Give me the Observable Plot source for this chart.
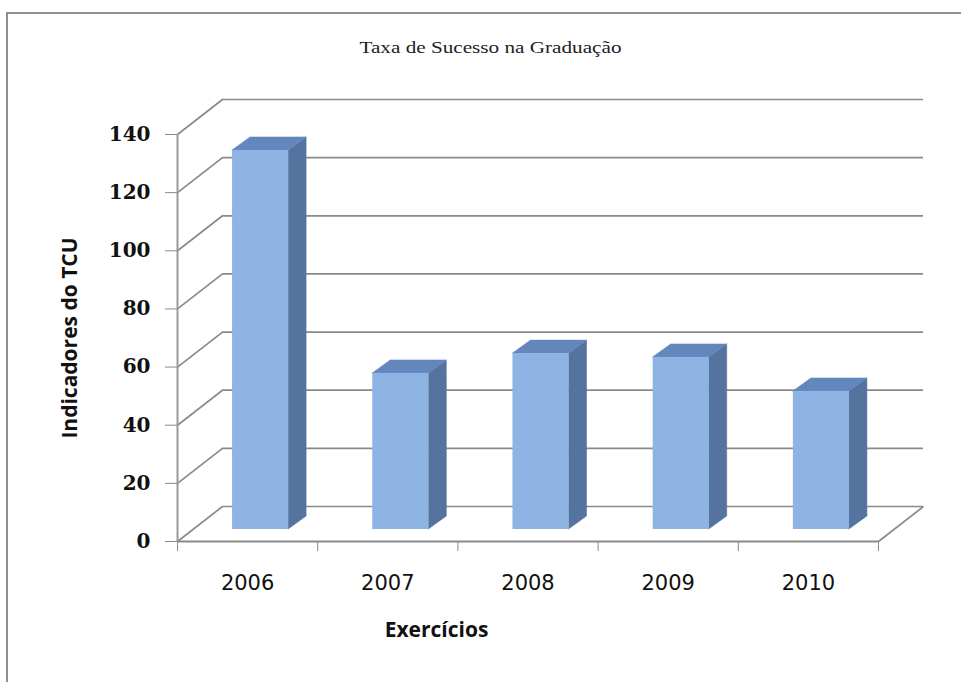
<!DOCTYPE html>
<html><head><meta charset="utf-8">
<script src="https://cdn.jsdelivr.net/npm/d3@7"></script>
<script src="https://cdn.jsdelivr.net/npm/@observablehq/plot@0.6"></script>
<style>
html,body{margin:0;padding:0;background:#fff;overflow:hidden;width:961px;height:682px}
#frame{position:absolute;left:6px;top:12px;width:1200px;height:900px;border-left:2px solid #8e8e8e;border-top:2px solid #8e8e8e}
#chart{position:absolute;left:0;top:0}
</style></head><body>
<div id="frame"></div><div id="chart"></div>
<script>
const chartTitle = "Taxa de Sucesso na Graduação";
const years = ["2006", "2007", "2008", "2009", "2010"];
const values = [130.4, 53.7, 60.5, 59.2, 47.5];
const yTicks = [0, 20, 40, 60, 80, 100, 120, 140];
const yTitle = "Indicadores do TCU";
const xTitle = "Exercícios";

// layout (pixels)
const W = 961, H = 682;
const mLeft = 177, mRight = 83, mTop = 134, mBottom = 141;
const yMax = 140;
const pxX = (W - mLeft - mRight) / years.length;
const pxY = (H - mTop - mBottom) / yMax;
// 3D depth expressed in data units
const wall = {dx: 45 / pxX, dy: 35 / pxY};
const off = {dx: 13 / pxX, dy: 12 / pxY};
const depth = {dx: 18 / pxX, dy: 13 / pxY};
const b0 = 0.3, b1 = 0.7;

const grid = "#8a8a8a";
const cFront = "#8EB4E3", cTop = "#6386BD", cSide = "#54739F";

const bars = years.map((y, i) => ({year: y, i, v: values[i]}));
const front = bars.map(d => ({year: d.year, x1: d.i + b0 + off.dx, x2: d.i + b1 + off.dx, y1: off.dy, y2: d.v + off.dy}));
const side = bars.flatMap(d => [
  {year: d.year, x: d.i + b1 + off.dx, y1: off.dy, y2: d.v + off.dy},
  {year: d.year, x: d.i + b1 + off.dx + depth.dx, y1: off.dy + depth.dy, y2: d.v + off.dy + depth.dy}
]);
const topf = bars.flatMap(d => [
  {year: d.year, y: d.v + off.dy, x1: d.i + b0 + off.dx, x2: d.i + b1 + off.dx},
  {year: d.year, y: d.v + off.dy + depth.dy, x1: d.i + b0 + off.dx + depth.dx, x2: d.i + b1 + off.dx + depth.dx}
]);
const n = years.length;
const xBounds = d3.range(n + 1);

const plot = Plot.plot({
  width: W, height: H,
  marginLeft: mLeft, marginRight: mRight, marginTop: mTop, marginBottom: mBottom,
  x: {type: "linear", domain: [0, n], axis: null},
  y: {type: "linear", domain: [0, yMax], axis: null},
  style: {background: "transparent", overflow: "visible"},
  marks: [
    // back wall gridlines
    Plot.ruleY(yTicks, {y: t => t + wall.dy, x1: wall.dx, x2: n + wall.dx, stroke: grid, strokeWidth: 1.7}),
    // left wall diagonals
    Plot.link(yTicks, {x1: 0, y1: t => t, x2: wall.dx, y2: t => t + wall.dy, stroke: grid, strokeWidth: 1.7}),
    // floor right edge
    Plot.link([n], {x1: d => d, y1: 0, x2: d => d + wall.dx, y2: wall.dy, stroke: grid, strokeWidth: 1.7}),
    // bars
    Plot.areaY(side, {x: "x", y1: "y1", y2: "y2", z: "year", fill: cSide, stroke: cSide, strokeWidth: 0.5, curve: "linear"}),
    Plot.areaX(topf, {y: "y", x1: "x1", x2: "x2", z: "year", fill: cTop, stroke: cTop, strokeWidth: 0.5, curve: "linear"}),
    Plot.rect(front, {x1: "x1", x2: "x2", y1: "y1", y2: "y2", fill: cFront}),
    // front axis lines
    Plot.ruleY([0], {x1: 0, x2: n, stroke: grid, strokeWidth: 1.8}),
    Plot.ruleX([0], {y1: 0, y2: yMax, stroke: "#999", strokeWidth: 2}),
    Plot.axisY(yTicks, {tickSize: 12, tickPadding: 15, stroke: grid, fill: "#111", fontFamily: "DejaVu Serif", fontWeight: "bold", fontSize: 20, label: null}),
    Plot.axisX(xBounds, {tickSize: 10, tickFormat: () => "", stroke: grid, label: null}),
    Plot.text(years, {x: (d, i) => i + 0.5, frameAnchor: "bottom", lineAnchor: "middle", dy: 42, fontFamily: "DejaVu Sans", fontSize: 21, fill: "#111"}),
    // titles
    Plot.text([xTitle], {frameAnchor: "bottom", lineAnchor: "middle", textAnchor: "middle", dx: 436 - 527.5, dy: 630 - 541, fontFamily: "Open Sans", fontWeight: "bold", fontSize: 21, fill: "#111"}),
    Plot.text([yTitle], {frameAnchor: "left", lineAnchor: "middle", textAnchor: "middle", rotate: -90, dx: 70 - 177, fontFamily: "Open Sans", fontWeight: "bold", fontSize: 21, fill: "#111"}),
    Plot.text([chartTitle], {frameAnchor: "top", lineAnchor: "middle", textAnchor: "middle", dx: 490 - 527.5, dy: 47 - 134, fontFamily: "Liberation Serif", fontSize: 17, fill: "#222"})
  ]
});
d3.select(plot).selectAll("text").filter(function() { return this.textContent === chartTitle; })
  .attr("textLength", 262).attr("lengthAdjust", "spacingAndGlyphs");
document.getElementById("chart").appendChild(plot);
</script>
</body></html>
